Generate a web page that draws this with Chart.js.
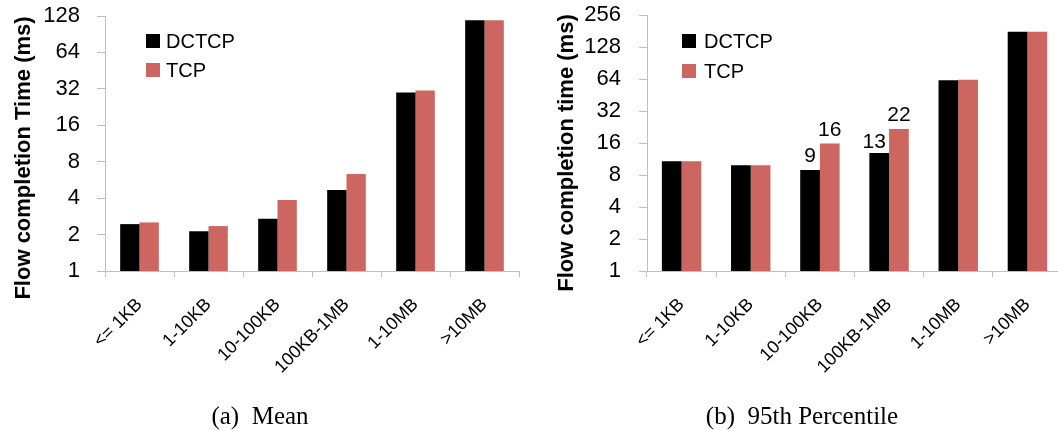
<!DOCTYPE html>
<html><head><meta charset="utf-8">
<script src="https://cdn.jsdelivr.net/npm/chart.js@4.4.1/dist/chart.umd.min.js"></script>
<style>
html,body{margin:0;padding:0;background:#fff;overflow:hidden;width:1058px;height:431px;}
#wrap{position:relative;width:1058px;height:431px;overflow:hidden;background:#fff;}
canvas{position:absolute;top:0;}
.cap{position:absolute;top:403px;font-family:'Liberation Serif','Times New Roman',serif;font-size:25px;line-height:25px;white-space:pre;transform:translateX(-50%);color:#000;}
</style></head><body>
<div id="wrap">
<canvas id="c1" width="530" height="431" style="left:0;width:530px;height:431px"></canvas>
<canvas id="c2" width="532" height="431" style="left:530px;width:532px;height:431px"></canvas>
<div class="cap" style="left:260px">(a)  Mean</div>
<div class="cap" style="left:802px">(b)  95th Percentile</div>
</div>
<script>
// ---- data ----
const categories = ['<= 1KB', '1-10KB', '10-100KB', '100KB-1MB', '1-10MB', '>10MB'];
const seriesNames = ['DCTCP', 'TCP'];
const meanDCTCP = [2.44, 2.13, 2.70, 4.66, 29.9, 118];
const meanTCP   = [2.52, 2.35, 3.86, 6.32, 31.0, 118];
const p95DCTCP  = [10.8, 9.9, 8.9, 12.9, 62.2, 178];
const p95TCP    = [10.8, 9.9, 15.8, 21.7, 63.1, 178];
const p95DCTCPTags = ['', '', '9', '13', '', ''];
const p95TCPTags   = ['', '', '16', '22', '', ''];
const meanTicks = [1, 2, 4, 8, 16, 32, 64, 128];
const p95Ticks  = [1, 2, 4, 8, 16, 32, 64, 128, 256];
const titleMean = 'Flow completion Time (ms)';
const titleP95  = 'Flow completion time (ms)';

// ---- styling ----
const FONT = "'Liberation Sans', Arial, sans-serif";
const BLACK = '#000000';
const RED = '#CD6661';
const AXIS = '#BFBFBF';

const sideTitle = {
  id: 'sideTitle',
  afterDraw(chart, args, o) {
    const ctx = chart.ctx; ctx.save();
    ctx.translate(o.x, o.y); ctx.rotate(-Math.PI / 2);
    ctx.font = o.font; ctx.fillStyle = '#000';
    ctx.textAlign = 'center'; ctx.textBaseline = 'middle';
    ctx.fillText(o.text, 0, 0);
    ctx.restore();
  }
};
const boxLegend = {
  id: 'boxLegend',
  afterDraw(chart, args, o) {
    const ctx = chart.ctx; ctx.save();
    ctx.font = o.font; ctx.textBaseline = 'middle'; ctx.textAlign = 'left';
    chart.data.datasets.forEach((ds, i) => {
      const y = o.y + i * o.step;
      ctx.fillStyle = ds.backgroundColor;
      ctx.fillRect(o.x, y, o.box, o.box);
      ctx.fillStyle = '#000';
      ctx.fillText(ds.label, o.x + o.box + o.gap, y + o.box / 2 + 1);
    });
    ctx.restore();
  }
};
const valueTags = {
  id: 'valueTags',
  afterDatasetsDraw(chart, args, o) {
    const ctx = chart.ctx; ctx.save();
    ctx.font = o.font || ('22px ' + FONT); ctx.fillStyle = '#000';
    ctx.textAlign = 'center'; ctx.textBaseline = 'alphabetic';
    const shifts = o.shifts || [];
    chart.data.datasets.forEach((ds, i) => {
      if (!ds.tags) return;
      chart.getDatasetMeta(i).data.forEach((bar, j) => {
        const t = ds.tags[j];
        if (!t) return;
        const s = shifts.find(q => q.ds === i && q.idx === j) || { dx: 0, dy: 0 };
        ctx.fillText(t, bar.x + s.dx, bar.y - (o.gap || 8) + s.dy);
      });
    });
    ctx.restore();
  }
};

function makeChart(id, a, b, tagsA, tagsB, tickVals, yMax, cfg) {
  return new Chart(document.getElementById(id), {
    type: 'bar',
    data: {
      labels: categories,
      datasets: [
        { label: seriesNames[0], data: a, backgroundColor: BLACK, borderWidth: 0, tags: tagsA },
        { label: seriesNames[1], data: b, backgroundColor: RED, borderWidth: 0, tags: tagsB }
      ]
    },
    plugins: [sideTitle, boxLegend, valueTags],
    options: {
      responsive: false,
      devicePixelRatio: 1,
      animation: false,
      events: [],
      categoryPercentage: cfg.catPct,
      barPercentage: 1.0,
      layout: { padding: { top: cfg.top, right: cfg.right, left: 0, bottom: 0 } },
      plugins: {
        legend: { display: false },
        tooltip: { enabled: false },
        title: { display: false },
        sideTitle: { text: cfg.title, x: cfg.titleX, y: cfg.titleY, font: 'bold 22px ' + FONT },
        boxLegend: { x: cfg.legX, y: cfg.legY, step: cfg.legStep, box: 14, gap: cfg.legGap, font: '20px ' + FONT },
        valueTags: { font: '21px ' + FONT, gap: 8, shifts: cfg.shifts || [] }
      },
      scales: {
        x: {
          offset: true,
          grid: { display: true, drawOnChartArea: false, drawTicks: true, tickLength: 6, color: AXIS, offset: true },
          border: { display: true, color: AXIS, width: 1 },
          ticks: { color: '#000', font: { family: FONT, size: 18 }, minRotation: 45, maxRotation: 45, padding: 17, autoSkip: false },
          afterFit(s) { s.height = 431 - 271; s.paddingLeft = 0; s.paddingRight = 0; }
        },
        y: {
          type: 'logarithmic', min: 1, max: yMax,
          grid: { display: true, drawOnChartArea: false, drawTicks: true, tickLength: 8, color: AXIS },
          border: { display: true, color: AXIS, width: 1 },
          ticks: { color: '#000', font: { family: FONT, size: 22 }, padding: cfg.tickPad, callback: (v) => String(v) },
          afterBuildTicks(s) { s.ticks = tickVals.map(v => ({ value: v })); },
          afterFit(s) { s.width = cfg.yWidth; s.paddingTop = 0; s.paddingBottom = 0; }
        }
      }
    }
  });
}

makeChart('c1', meanDCTCP, meanTCP, null, null, meanTicks, 128, {
  catPct: 0.56, top: 16, right: 11, yWidth: 105, tickPad: 17,
  title: titleMean, titleX: 24, titleY: 158,
  legX: 146, legY: 34, legStep: 29, legGap: 6
});
makeChart('c2', p95DCTCP, p95TCP, p95DCTCPTags, p95TCPTags, p95Ticks, 256, {
  catPct: 0.57, top: 15, right: 0, yWidth: 117, tickPad: 18,
  title: titleP95, titleX: 37, titleY: 153,
  legX: 152, legY: 34, legStep: 30, legGap: 8,
  shifts: [{ ds: 0, idx: 3, dx: -5, dy: 3 }]
});
</script>
</body></html>
